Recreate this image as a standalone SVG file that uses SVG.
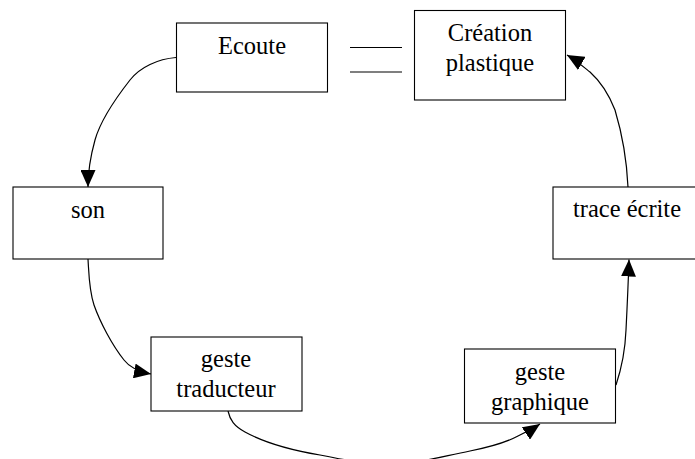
<svg xmlns="http://www.w3.org/2000/svg" width="695" height="459" viewBox="0 0 695 459">
<defs>
<style>
.box{fill:#fff;stroke:#000;stroke-width:1.1}
.edge{fill:none;stroke:#000;stroke-width:1.2}
.lbl{font-family:"Liberation Serif","Times New Roman",serif;font-size:24.5px;fill:#000;text-anchor:middle}
</style>
<marker id="arr" viewBox="0 0 17 15" refX="17" refY="7.5" markerWidth="17" markerHeight="15" markerUnits="userSpaceOnUse" orient="auto">
<path d="M0,0 L17,7.5 L0,15 z" fill="#000"/>
</marker>
</defs>
<rect width="695" height="459" fill="#fff"/>
<g id="connectors">
<path class="edge" d="M176,57.5 C158,59 140,67 130,80 C112,103 100,122 95,140 C90,158 88,172 88,187" marker-end="url(#arr)"/>
<path class="edge" d="M88,259 C89,275 89,290 94,305 C100,322 112,345 124,360 C130,368 140,372 151,374" marker-end="url(#arr)"/>
<path class="edge" d="M228,411 C230,420 234,426 245,432 C265,443 290,450 320,455 C345,460 370,465 395,464 C420,463 440,457 470,451 C490,447 505,443 518,436 C528,431 534,428 540,424" marker-end="url(#arr)"/>
<path class="edge" d="M616,385 C621,370 625,355 626,330 C627,310 628,290 629,259.5" marker-end="url(#arr)"/>
<path class="edge" d="M628,187 C627,165 624,140 615,110 C608,92 600,81 590,72 C580,64 574,59 567,55" marker-end="url(#arr)"/>
<line class="edge" x1="350" y1="47.5" x2="402" y2="47.5"/>
<line class="edge" x1="350" y1="72" x2="402" y2="72"/>
</g>
<g id="ecoute">
<rect class="box" x="176.5" y="23" width="151" height="69"/>
<text class="lbl" x="252" y="54">Ecoute</text>
</g>
<g id="creation">
<rect class="box" x="414.5" y="10.5" width="151" height="89.5"/>
<text class="lbl" x="490" y="41">Création</text>
<text class="lbl" x="490" y="71">plastique</text>
</g>
<g id="son">
<rect class="box" x="13" y="187" width="150" height="72"/>
<text class="lbl" x="88" y="218">son</text>
</g>
<g id="trace">
<rect class="box" x="553" y="187" width="151" height="72"/>
<text class="lbl" x="627" y="217">trace écrite</text>
</g>
<g id="traducteur">
<rect class="box" x="151" y="337" width="151" height="74"/>
<text class="lbl" x="226" y="367">geste</text>
<text class="lbl" x="226" y="397">traducteur</text>
</g>
<g id="graphique">
<rect class="box" x="464.5" y="349" width="151" height="74"/>
<text class="lbl" x="540" y="380">geste</text>
<text class="lbl" x="540" y="410">graphique</text>
</g>
</svg>
